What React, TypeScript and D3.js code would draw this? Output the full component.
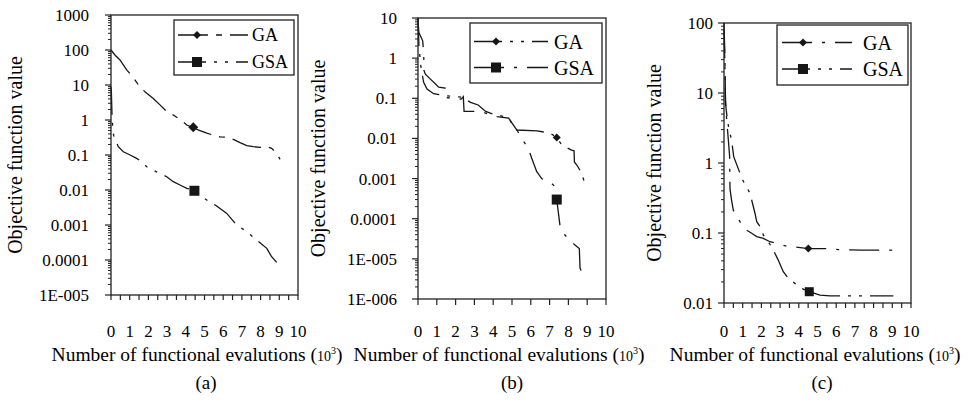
import React from "react";
import * as d3 from "d3";

const FONT = '"Liberation Serif"';

// ---------- Panel (a) ----------
const gaXA = [0, 0.21, 0.48, 0.84, 1.19, 1.55, 1.91, 2.26, 2.62, 2.98, 3.33, 3.69, 4.05, 4.40, 4.76, 5.12, 5.47, 5.83, 6.19, 6.54, 6.90, 7.26, 7.61, 7.97, 8.33, 8.59, 8.86, 9.04];
const gaYA = [100, 72, 52, 27, 16.6, 8.6, 5.8, 4.1, 2.7, 1.73, 1.39, 1.04, 0.72, 0.60, 0.50, 0.42, 0.37, 0.33, 0.32, 0.28, 0.225, 0.185, 0.173, 0.166, 0.173, 0.155, 0.112, 0.075];
const gsaXA = [0, 0.02, 0.05, 0.1, 0.15, 0.21, 0.39, 0.66, 1.02, 1.37, 1.64, 1.91, 2.44, 2.98, 3.33, 3.69, 4.05, 4.46, 4.76, 5.12, 5.65, 6.19, 6.72, 7.26, 7.79, 8.33, 8.59, 8.91];
const gsaYA = [8.9, 6.3, 1.6, 0.5, 0.35, 0.3, 0.173, 0.124, 0.1, 0.08, 0.065, 0.046, 0.033, 0.024, 0.0173, 0.0139, 0.0112, 0.0095, 0.0072, 0.0052, 0.0035, 0.00215, 0.001, 0.00065, 0.00037, 0.000215, 0.000124, 0.00008];
const gaMarkA = [4.40, 0.62];
const gsaMarkA = [4.46, 0.0095];
const yTicksA = [1000, 100, 10, 1, 0.1, 0.01, 0.001, 0.0001, 0.00001];
const yLabelsA = ["1000", "100", "10", "1", "0.1", "0.01", "0.001", "0.0001", "1E-005"];

// ---------- Panel (b) ----------
const gaXB = [0, 0.05, 0.15, 0.3, 0.48, 0.83, 1.37, 2.34, 2.8, 3.2, 3.6, 4.1, 4.6, 4.9, 5.1, 5.26, 6.33, 7.04, 7.38, 7.65, 8.17, 8.3, 8.32, 8.5, 8.7, 8.92];
const gaYB = [10, 2.0, 0.63, 0.25, 0.17, 0.13, 0.117, 0.107, 0.079, 0.068, 0.047, 0.039, 0.035, 0.028, 0.02, 0.0162, 0.0155, 0.0135, 0.0105, 0.0069, 0.0051, 0.0049, 0.0026, 0.002, 0.00135, 0.00066];
const gsaXB = [0, 0.04, 0.25, 0.3, 0.31, 0.32, 0.39, 0.66, 0.92, 1.1, 1.44, 1.47, 2.3, 2.41, 2.45, 3.0, 3.5, 4.2, 4.82, 5.26, 5.63, 5.87, 6.05, 6.31, 6.58, 7.11, 7.28, 7.38, 7.46, 7.55, 7.82, 8.35, 8.58, 8.62, 8.7, 8.94];
const gsaYB = [10, 4.4, 2.7, 1.4, 0.87, 0.49, 0.40, 0.30, 0.23, 0.19, 0.18, 0.104, 0.095, 0.11, 0.047, 0.047, 0.044, 0.035, 0.032, 0.0162, 0.0083, 0.0056, 0.0032, 0.0015, 0.001, 0.00076, 0.00063, 0.0003, 0.00015, 0.000069, 0.000039, 0.000022, 0.000018, 0.0000058, 0.0000049, 0.0000049];
const gaMarkB = [7.38, 0.0105];
const gsaMarkB = [7.38, 0.0003];
const yTicksB = [10, 1, 0.1, 0.01, 0.001, 0.0001, 0.00001, 0.000001];
const yLabelsB = ["10", "1", "0.1", "0.01", "0.001", "0.0001", "1E-005", "1E-006"];

// ---------- Panel (c) ----------
const gaXC = [0, 0.05, 0.08, 0.15, 0.3, 0.32, 0.4, 0.5, 0.77, 0.95, 1.21, 1.48, 1.75, 2.1, 2.46, 3.35, 4.51, 5.49, 6.11, 7.36, 9.02];
const gaYC = [100, 32, 7.1, 4.0, 1.26, 0.43, 0.30, 0.21, 0.16, 0.13, 0.11, 0.099, 0.089, 0.084, 0.075, 0.065, 0.060, 0.060, 0.058, 0.057, 0.057];
const gsaXC = [0, 0.05, 0.08, 0.12, 0.25, 0.41, 0.52, 0.86, 1.0, 1.39, 1.66, 1.75, 1.93, 2.1, 2.37, 2.64, 2.9, 3.17, 3.44, 3.8, 4.15, 4.56, 5.13, 5.67, 7.54, 9.06];
const gsaYC = [79, 25, 7.9, 5.6, 3.2, 2.1, 1.23, 0.71, 0.57, 0.37, 0.19, 0.145, 0.123, 0.094, 0.075, 0.057, 0.041, 0.028, 0.0225, 0.019, 0.0162, 0.0145, 0.013, 0.0126, 0.0126, 0.0126];
const gaMarkC = [4.51, 0.060];
const gsaMarkC = [4.56, 0.0145];
const yTicksC = [100, 10, 1, 0.1, 0.01];
const yLabelsC = ["100", "10", "1", "0.1", "0.01"];

// ---------- shared ----------
const xTickValues = [0, 1, 2, 3, 4, 5, 6, 7, 8, 9, 10];
const xTickLabels = ["0", "1", "2", "3", "4", "5", "6", "7", "8", "9", "10"];
const seriesNames = ["GA", "GSA"];
const yTitle = "Objective function value";
const xTitleMain = "Number of functional evalutions (";
const panelLetters = ["(a)", "(b)", "(c)"];

const DASH_DOT = "30,10,3,10";
const DASH_DOT_DOT = "28,8,3,8,3,8";
const INK = "#161616";

const panels = [
  {
    gaX: gaXA, gaY: gaYA, gsaX: gsaXA, gsaY: gsaYA, gaMark: gaMarkA, gsaMark: gsaMarkA,
    yTicks: yTicksA, yLabels: yLabelsA, letter: panelLetters[0],
    left: 111, right: 298, top: 15, bottom: 295, yMin: 1e-5, yMax: 1000,
    xStep: 0.5, xTickLen: 5, yLabelX: 89, yTitleX: 22, xTitleCX: 197, subCX: 206,
    gaDash: "30,8,6,8", gsaDash: DASH_DOT_DOT, dSize: 5, sSize: 10,
    leg: { x: 174, y: 20, w: 120, h: 55, r1: 35, r2: 62, l1: 178, l2: 248, m: 197, t: 252, fs: 18 },
  },
  {
    gaX: gaXB, gaY: gaYB, gsaX: gsaXB, gsaY: gsaYB, gaMark: gaMarkB, gsaMark: gsaMarkB,
    yTicks: yTicksB, yLabels: yLabelsB, letter: panelLetters[1],
    left: 418, right: 606, top: 18, bottom: 299, yMin: 1e-6, yMax: 10,
    xStep: 1, xTickLen: 6, yLabelX: 397, yTitleX: 325, xTitleCX: 499, subCX: 512,
    gaDash: DASH_DOT_DOT, gsaDash: DASH_DOT, dSize: 4, sSize: 10,
    leg: { x: 470, y: 23, w: 132, h: 60, r1: 41.5, r2: 67.5, l1: 474, l2: 548, m: 496, t: 554, fs: 20 },
  },
  {
    gaX: gaXC, gaY: gaYC, gsaX: gsaXC, gsaY: gsaYC, gaMark: gaMarkC, gsaMark: gsaMarkC,
    yTicks: yTicksC, yLabels: yLabelsC, letter: panelLetters[2],
    left: 724, right: 911, top: 23, bottom: 303, yMin: 0.01, yMax: 100,
    xStep: 0.5, xTickLen: 5, yLabelX: 713, yTitleX: 661, xTitleCX: 815, subCX: 822,
    gaDash: DASH_DOT, gsaDash: DASH_DOT_DOT, dSize: 4, sSize: 9,
    leg: { x: 777, y: 25, w: 131, h: 60, r1: 42.5, r2: 69, l1: 782, l2: 852, m: 803, t: 863, fs: 20 },
  },
];

const diamond = (s: number) => `M0,${-s}L${s},0L0,${s}L${-s},0Z`;

function Panel({ cfg }: { cfg: any }) {
  const x = d3.scaleLinear().domain([0, 10]).range([cfg.left, cfg.right]);
  const y = d3.scaleLog().domain([cfg.yMin, cfg.yMax]).range([cfg.bottom, cfg.top]);
  const line = d3.line<[number, number]>().x((d) => x(d[0])).y((d) => y(d[1]));
  const ga: [number, number][] = cfg.gaX.map((v: number, i: number) => [v, cfg.gaY[i]]);
  const gsa: [number, number][] = cfg.gsaX.map((v: number, i: number) => [v, cfg.gsaY[i]]);

  const xt = d3.range(0, 10 + 1e-9, cfg.xStep);
  const minor: number[] = [];
  const e0 = Math.round(Math.log10(cfg.yMin));
  const e1 = Math.round(Math.log10(cfg.yMax));
  for (let e = e0; e < e1; e++) for (let k = 2; k <= 9; k++) minor.push(k * Math.pow(10, e));

  const L = cfg.leg;
  const cy = (cfg.top + cfg.bottom) / 2;

  return (
    <g style={{ fontFamily: FONT }} fill="#000">
      <path d={line(ga) || ""} fill="none" stroke={INK} strokeWidth={1.3} strokeDasharray={cfg.gaDash} />
      <path d={line(gsa) || ""} fill="none" stroke={INK} strokeWidth={1.3} strokeDasharray={cfg.gsaDash} />
      <path d={diamond(cfg.dSize)} transform={`translate(${x(cfg.gaMark[0])},${y(cfg.gaMark[1])})`} fill={INK} />
      <rect x={x(cfg.gsaMark[0]) - cfg.sSize / 2} y={y(cfg.gsaMark[1]) - cfg.sSize / 2} width={cfg.sSize} height={cfg.sSize} fill={INK} />

      <rect x={cfg.left} y={cfg.top} width={cfg.right - cfg.left} height={cfg.bottom - cfg.top} fill="none" stroke="#222" strokeWidth={1.3} />

      {minor.map((v, i) => (
        <line key={"mn" + i} x1={cfg.left - 3} x2={cfg.left} y1={y(v)} y2={y(v)} stroke="#222" strokeWidth={1} />
      ))}
      {cfg.yTicks.map((v: number, i: number) => (
        <g key={"yt" + i}>
          <line x1={cfg.left - 6} x2={cfg.left} y1={y(v)} y2={y(v)} stroke="#222" strokeWidth={1.2} />
          <text x={cfg.yLabelX} y={y(v)} dy="0.35em" textAnchor="end" fontSize={17}>{cfg.yLabels[i]}</text>
        </g>
      ))}

      {xt.map((v: number, i: number) => (
        <line key={"xt" + i} x1={x(v)} x2={x(v)} y1={cfg.bottom} y2={cfg.bottom + cfg.xTickLen} stroke="#222" strokeWidth={1.2} />
      ))}
      {xTickValues.map((v, i) => (
        <text key={"xl" + i} x={x(v)} y={337} textAnchor="middle" fontSize={17}>{xTickLabels[i]}</text>
      ))}

      <text transform={`translate(${cfg.yTitleX},${cy}) rotate(-90)`} textAnchor="middle" fontSize={20}>{yTitle}</text>
      <text x={cfg.xTitleCX} y={361} textAnchor="middle" fontSize={19.5}>
        {xTitleMain}
        <tspan fontSize={14}>10</tspan>
        <tspan fontSize={10} dy={-7}>3</tspan>
        <tspan dy={7}>)</tspan>
      </text>
      <text x={cfg.subCX} y={389} textAnchor="middle" fontSize={19}>{cfg.letter}</text>

      <rect x={L.x} y={L.y} width={L.w} height={L.h} fill="#fff" stroke="#222" strokeWidth={1.3} />
      <line x1={L.l1} x2={L.l2} y1={L.r1} y2={L.r1} stroke={INK} strokeWidth={1.3} strokeDasharray={cfg.gaDash} />
      <path d={diamond(4)} transform={`translate(${L.m},${L.r1})`} fill={INK} />
      <text x={L.t} y={L.r1} dy="0.35em" fontSize={L.fs}>{seriesNames[0]}</text>
      <line x1={L.l1} x2={L.l2} y1={L.r2} y2={L.r2} stroke={INK} strokeWidth={1.3} strokeDasharray={cfg.gsaDash} />
      <rect x={L.m - 5} y={L.r2 - 5} width={10} height={10} fill={INK} />
      <text x={L.t} y={L.r2} dy="0.35em" fontSize={L.fs}>{seriesNames[1]}</text>
    </g>
  );
}

export default function App() {
  return (
    <svg width={968} height={403} viewBox="0 0 968 403"
      style={{ position: "absolute", left: 0, top: 0, background: "#fff", fontFamily: FONT }}>
      <rect x={0} y={0} width={968} height={403} fill="#fff" />
      {panels.map((p, i) => (
        <Panel key={i} cfg={p} />
      ))}
    </svg>
  );
}
